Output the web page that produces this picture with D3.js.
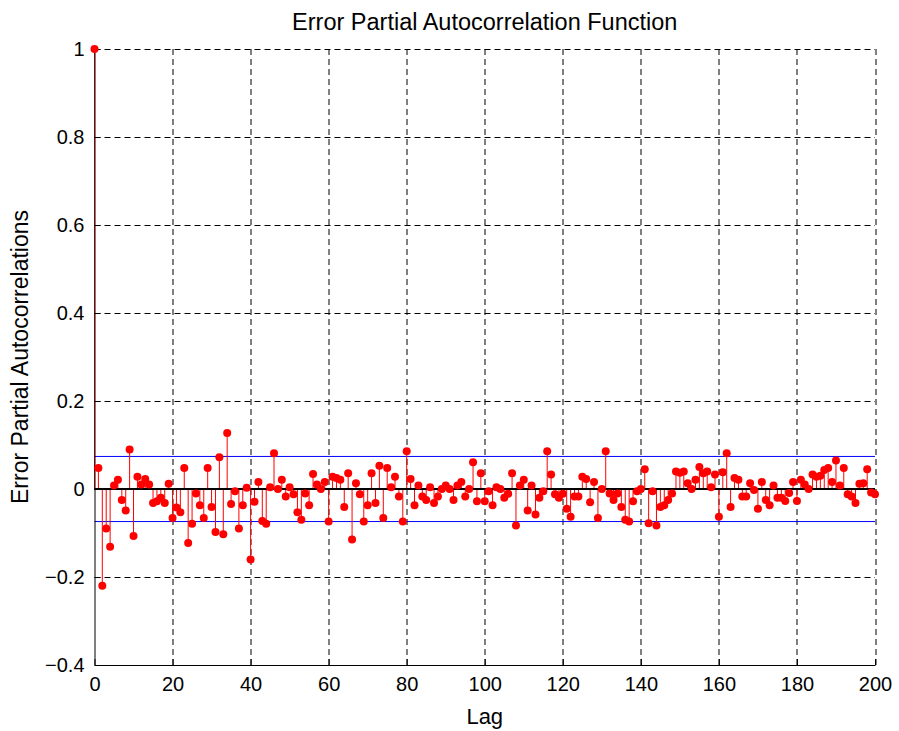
<!DOCTYPE html>
<html>
<head>
<meta charset="utf-8">
<script src="https://cdn.jsdelivr.net/npm/d3@7"></script>
<style>
  body { margin: 0; background: #fff; }
  svg { display: block; font-family: "Liberation Sans", Arial, Helvetica, sans-serif; }
</style>
</head>
<body>
<div id="chart"></div>
<script>
// partial autocorrelation per lag, lag 0 .. 200
var pacf = [
  1, 0.048, -0.22, -0.09, -0.131, 0.008, 0.021, -0.025, -0.049, 0.09,
  -0.107, 0.028, 0.01, 0.023, 0.01, -0.032, -0.028, -0.02, -0.032, 0.012,
  -0.066, -0.042, -0.053, 0.048, -0.123, -0.079, -0.01, -0.037, -0.066, 0.048,
  -0.041, -0.098, 0.072, -0.103, 0.127, -0.034, -0.005, -0.09, -0.037, 0.003,
  -0.16, -0.029, 0.016, -0.073, -0.079, 0.004, 0.081, 0.0, 0.021, -0.017,
  0.004, -0.012, -0.053, -0.07, -0.01, -0.037, 0.034, 0.01, 0.0, 0.016,
  -0.074, 0.028, 0.025, 0.021, -0.041, 0.036, -0.115, 0.013, -0.012, -0.074,
  -0.037, 0.036, -0.032, 0.053, -0.066, 0.048, 0.004, 0.028, -0.017, -0.074,
  0.086, 0.023, -0.037, 0.008, -0.017, -0.025, 0.004, -0.032, -0.017, 0.0,
  0.008, 0.0, -0.025, 0.008, 0.016, -0.017, 0.0, 0.061, -0.028, 0.036,
  -0.028, -0.005, -0.037, 0.004, 0.0, -0.02, -0.011, 0.036, -0.083, 0.008,
  0.021, -0.049, 0.008, -0.058, -0.02, -0.005, 0.086, 0.033, -0.012, -0.02,
  -0.011, -0.045, -0.063, -0.017, -0.017, 0.028, 0.023, -0.03, 0.016, -0.066,
  0.0, 0.086, -0.01, -0.025, -0.01, -0.041, -0.07, -0.074, -0.028, -0.005,
  0.0, 0.045, -0.078, -0.005, -0.083, -0.041, -0.037, -0.025, -0.01, 0.04,
  0.037, 0.04, 0.013, 0.0, 0.021, 0.05, 0.036, 0.04, 0.004, 0.033,
  -0.063, 0.038, 0.081, -0.041, 0.025, 0.021, -0.017, -0.017, 0.013, -0.002,
  -0.045, 0.016, -0.025, -0.037, 0.008, -0.02, -0.02, -0.027, -0.009, 0.016,
  -0.027, 0.021, 0.01, 0.0, 0.033, 0.028, 0.03, 0.043, 0.048, 0.016,
  0.065, 0.008, 0.048, -0.012, -0.017, -0.032, 0.012, 0.013, 0.045, -0.008,
  -0.012
];
var lags = pacf.map(function(d, i) { return i; });
var bound = 0.074;   // confidence bound (+/-)
var xTicks = [0, 20, 40, 60, 80, 100, 120, 140, 160, 180, 200];
var yTicks = [-0.4, -0.2, 0, 0.2, 0.4, 0.6, 0.8, 1];

var W = 899, H = 731;
var margin = { top: 49, left: 94.5, right: 24, bottom: 66 };
var width = W - margin.left - margin.right,
    height = H - margin.top - margin.bottom;

var svg = d3.select('#chart').append('svg')
    .attr('width', W)
    .attr('height', H);

var g = svg.append('g')
    .attr('transform', 'translate(' + margin.left + ',' + margin.top + ')');

var x = d3.scaleLinear().domain([0, 200]).range([0, width]);
var y = d3.scaleLinear().domain([-0.4, 1]).range([height, 0]);

// dashed grid
g.append('g').selectAll('line')
    .data(xTicks.filter(function(d) { return d > 0; }))
    .enter().append('line')
    .attr('x1', function(d) { return Math.round(x(d)) + 0.5; })
    .attr('x2', function(d) { return Math.round(x(d)) + 0.5; })
    .attr('y1', 0).attr('y2', height)
    .style('stroke', '#000').style('stroke-dasharray', '6,4');

g.append('g').selectAll('line')
    .data(yTicks.filter(function(d) { return d > -0.4; }))
    .enter().append('line')
    .attr('x1', 0).attr('x2', width)
    .attr('y1', function(d) { return Math.round(y(d)) + 0.5; })
    .attr('y2', function(d) { return Math.round(y(d)) + 0.5; })
    .style('stroke', '#000').style('stroke-dasharray', '6,4');

// confidence bounds
g.append('g').selectAll('line')
    .data([bound, -bound])
    .enter().append('line')
    .attr('x1', 0).attr('x2', width)
    .attr('y1', function(d) { return y(d); })
    .attr('y2', function(d) { return y(d); })
    .style('stroke', '#0000ff').style('stroke-width', 1);

// stems
g.append('g').selectAll('line')
    .data(lags)
    .enter().append('line')
    .attr('x1', function(d) { return x(d); })
    .attr('x2', function(d) { return x(d); })
    .attr('y1', y(0))
    .attr('y2', function(d) { return y(pacf[d]); })
    .style('stroke', '#ff0000').style('stroke-width', 1);

// zero line
g.append('line')
    .attr('x1', 0).attr('x2', width)
    .attr('y1', y(0)).attr('y2', y(0))
    .style('stroke', '#000').style('stroke-width', 2);

// axes (inward ticks, no box)
var xAxis = g.append('g')
    .attr('transform', 'translate(0,' + height + ')')
    .call(d3.axisBottom(x).tickValues(xTicks).tickSizeInner(-6).tickSizeOuter(0).tickPadding(12));
var yAxis = g.append('g')
    .call(d3.axisLeft(y).tickValues(yTicks).tickSizeInner(-6).tickSizeOuter(0).tickPadding(10)
      .tickFormat(function(d) { return d3.format('')(+d.toFixed(1)); }));

[xAxis, yAxis].forEach(function(a) {
  a.select('.domain').style('stroke', '#000').style('stroke-width', 1);
  a.selectAll('.tick line').style('stroke', '#000');
  a.selectAll('.tick text').style('font-size', '20px').style('fill', '#000')
    .style('font-family', '"Liberation Sans", Arial, sans-serif');
});

// markers
g.append('g').selectAll('circle')
    .data(lags)
    .enter().append('circle')
    .attr('cx', function(d) { return x(d); })
    .attr('cy', function(d) { return y(pacf[d]); })
    .attr('r', 4)
    .style('fill', '#ff0000');

// labels
svg.append('text')
    .attr('x', margin.left + width / 2)
    .attr('y', 30)
    .attr('text-anchor', 'middle')
    .style('font-size', '23.5px')
    .text('Error Partial Autocorrelation Function');

svg.append('text')
    .attr('x', margin.left + width / 2)
    .attr('y', 724)
    .attr('text-anchor', 'middle')
    .style('font-size', '22px')
    .text('Lag');

svg.append('text')
    .attr('transform', 'translate(28,' + (margin.top + height / 2) + ') rotate(-90)')
    .attr('text-anchor', 'middle')
    .style('font-size', '23px')
    .text('Error Partial Autocorrelations');
</script>
</body>
</html>
